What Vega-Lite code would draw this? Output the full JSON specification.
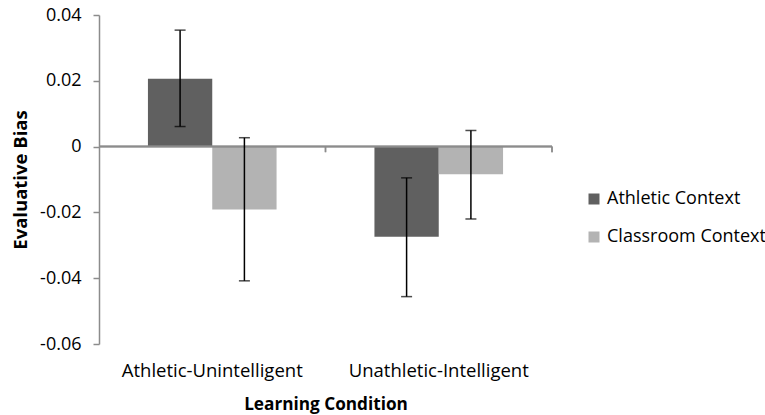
{
  "$schema": "https://vega.github.io/schema/vega-lite/v6.json",
  "width": 453,
  "height": 329,
  "autosize": {"type": "none"},
  "padding": {"left": 99, "top": 15, "right": 213, "bottom": 71},
  "background": "white",
  "config": {
    "view": {"stroke": null},
    "font": "Open Sans",
    "axis": {"labelFont": "Open Sans", "titleFont": "Open Sans", "labelColor": "#000000", "titleColor": "#000000"},
    "legend": {"labelFont": "Open Sans"}
  },
  "data": {
    "values": [
      {"condition": "Athletic-Unintelligent", "context": "Athletic Context", "mean": 0.0206, "lo": 0.0061, "hi": 0.0354},
      {"condition": "Athletic-Unintelligent", "context": "Classroom Context", "mean": -0.0191, "lo": -0.0408, "hi": 0.0027},
      {"condition": "Unathletic-Intelligent", "context": "Athletic Context", "mean": -0.0274, "lo": -0.0456, "hi": -0.0095},
      {"condition": "Unathletic-Intelligent", "context": "Classroom Context", "mean": -0.0084, "lo": -0.022, "hi": 0.0049}
    ]
  },
  "encoding": {
    "x": {
      "field": "condition",
      "type": "nominal",
      "sort": ["Athletic-Unintelligent", "Unathletic-Intelligent"],
      "scale": {"paddingInner": 0, "paddingOuter": 0},
      "axis": {
        "title": "Learning Condition",
        "titleFontSize": 17.2,
        "titleFontWeight": "bold",
        "titlePadding": 16,
        "labelFontSize": 18.5,
        "labelAngle": 0,
        "labelPadding": 17,
        "domain": false,
        "ticks": false,
        "labelLimit": 400
      }
    },
    "xOffset": {
      "field": "context",
      "type": "nominal",
      "sort": ["Athletic Context", "Classroom Context"],
      "scale": {"paddingInner": 0, "paddingOuter": 0.761}
    }
  },
  "layer": [
    {
      "mark": {"type": "bar", "stroke": null},
      "encoding": {
        "y": {
          "field": "mean",
          "type": "quantitative",
          "scale": {"domain": [-0.06, 0.04], "nice": false, "zero": false},
          "axis": {
            "title": "Evaluative Bias",
            "titleFontSize": 18.5,
            "titleFontWeight": "bold",
            "titlePadding": 9,
            "values": [-0.06, -0.04, -0.02, 0, 0.02, 0.04],
            "labelExpr": "datum.value == 0 ? '0' : (datum.value < 0 ? '-' + format(-datum.value, '.2f') : format(datum.value, '.2f'))",
            "labelFontSize": 18,
            "labelPadding": 12,
            "grid": false,
            "domainColor": "#8c8c8c",
            "domainWidth": 1.5,
            "tickColor": "#8c8c8c",
            "tickWidth": 1.5,
            "tickSize": 6
          }
        },
        "y2": {"datum": 0},
        "color": {
          "field": "context",
          "type": "nominal",
          "sort": ["Athletic Context", "Classroom Context"],
          "scale": {"range": ["#606060", "#b3b3b3"]},
          "legend": {
            "title": null,
            "orient": "none",
            "legendX": 486,
            "legendY": 175,
            "symbolType": "square",
            "symbolSize": 121,
            "symbolStrokeWidth": 0,
            "labelFontSize": 18,
            "labelColor": "#000000",
            "labelOffset": 4,
            "rowPadding": 20,
            "padding": 0,
            "labelLimit": 300
          }
        }
      }
    },
    {
      "mark": {"type": "rule", "color": "#8c8c8c", "strokeWidth": 1.5},
      "encoding": {"y": {"datum": 0}, "x": null, "xOffset": null}
    },
    {
      "mark": {"type": "rule", "color": "#8c8c8c", "strokeWidth": 1.5},
      "encoding": {
        "x": {"field": "condition", "type": "nominal", "bandPosition": 1, "sort": ["Athletic-Unintelligent", "Unathletic-Intelligent"]},
        "xOffset": null,
        "y": {"datum": 0},
        "y2": {"datum": -0.0017}
      }
    },
    {
      "mark": {"type": "rule", "color": "#000000", "strokeWidth": 1.5},
      "encoding": {
        "y": {"field": "lo", "type": "quantitative"},
        "y2": {"field": "hi"}
      }
    },
    {
      "mark": {"type": "tick", "color": "#000000", "thickness": 1.5, "size": 11},
      "encoding": {"y": {"field": "lo", "type": "quantitative"}}
    },
    {
      "mark": {"type": "tick", "color": "#000000", "thickness": 1.5, "size": 11},
      "encoding": {"y": {"field": "hi", "type": "quantitative"}}
    }
  ]
}
